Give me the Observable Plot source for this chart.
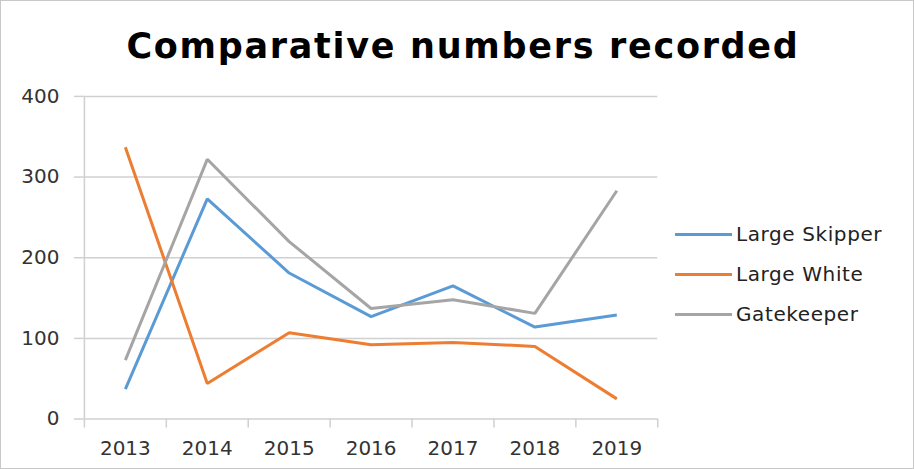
<!DOCTYPE html>
<html>
<head>
<meta charset="utf-8">
<script src="https://cdn.jsdelivr.net/npm/d3@7"></script>
<script src="https://cdn.jsdelivr.net/npm/@observablehq/plot@0.6"></script>
<style>
  html, body { margin: 0; padding: 0; background: #fff; }
  #wrap { position: relative; width: 912px; height: 467px; border: 1px solid #c8c8c8; overflow: hidden; font-family: "DejaVu Sans", sans-serif; }
  #title { position: absolute; left: 10px; top: 25px; width: 904px; text-align: center; font-weight: bold; font-size: 35px; color: #000; letter-spacing: 1.7px; }
  #legend { position: absolute; left: 674px; top: 213px; }
  .item { display: flex; align-items: center; height: 40px; font-size: 20px; color: #222; letter-spacing: 0.6px; }
  .swatch { width: 57px; height: 3px; margin-right: 4px; }
  #chart { position: absolute; left: -1px; top: -1px; }
</style>
</head>
<body>
<div id="wrap">
  <div id="title">Comparative numbers recorded</div>
  <div id="chart"></div>
  <div id="legend"></div>
</div>
<script>
const years = ["2013", "2014", "2015", "2016", "2017", "2018", "2019"];
const seriesNames = ["Large Skipper", "Large White", "Gatekeeper"];
const largeSkipper = [37, 273, 181, 127, 165, 114, 129];
const largeWhite = [337, 44, 107, 92, 95, 90, 25];
const gatekeeper = [73, 322, 220, 137, 148, 131, 283];
const colors = ["#5B9BD5", "#ED7D31", "#A5A5A5"];
const yTicks = [0, 100, 200, 300, 400];

const values = [largeSkipper, largeWhite, gatekeeper];
const data = [];
seriesNames.forEach((s, si) => years.forEach((y, i) => data.push({series: s, year: y, value: values[si][i]})));

const gridColor = "#d0d0d0";
const plot = Plot.plot({
  width: 914,
  height: 469,
  marginLeft: 84,
  marginRight: 256,
  marginTop: 96,
  marginBottom: 50,
  style: { fontFamily: "DejaVu Sans, sans-serif", fontSize: "20px", color: "#333", background: "transparent" },
  x: { type: "point", domain: years, padding: 0.5, label: null },
  y: { domain: [0, 400], label: null },
  color: { domain: seriesNames, range: colors },
  marks: [
    Plot.gridY(yTicks, { stroke: gridColor, strokeOpacity: 1, strokeWidth: 1.5 }),
    Plot.axisY(yTicks, { tickSize: 10, tickPadding: 15, stroke: gridColor, strokeWidth: 1.5, fill: "#333", label: null, style: "letter-spacing:2px" }),
    Plot.ruleX([years[0]], { x: d => d, dx: -41, insetBottom: -9, stroke: gridColor, strokeWidth: 1.5 }),
    Plot.ruleX(years.slice(1), { x: d => d, dx: -41, y1: d => 0, y2: d => 0, insetBottom: -9, stroke: gridColor, strokeWidth: 1.5 }),
    Plot.ruleX([years[years.length - 1]], { x: d => d, dx: 41, y1: d => 0, y2: d => 0, insetBottom: -9, stroke: gridColor, strokeWidth: 1.5 }),
    Plot.axisX(years, { tickSize: 0, tickPadding: 22, fill: "#333", label: null, style: "letter-spacing:1.3px" }),
    Plot.line(data, { x: "year", y: "value", z: "series", stroke: "series", strokeWidth: 3, strokeLinejoin: "miter", strokeLinecap: "butt" })
  ]
});
document.getElementById("chart").appendChild(plot);

const legend = document.getElementById("legend");
seriesNames.forEach((s, i) => {
  const item = document.createElement("div");
  item.className = "item";
  const sw = document.createElement("span");
  sw.className = "swatch";
  sw.style.background = colors[i];
  const t = document.createElement("span");
  t.textContent = s;
  item.appendChild(sw);
  item.appendChild(t);
  legend.appendChild(item);
});
</script>
</body>
</html>
